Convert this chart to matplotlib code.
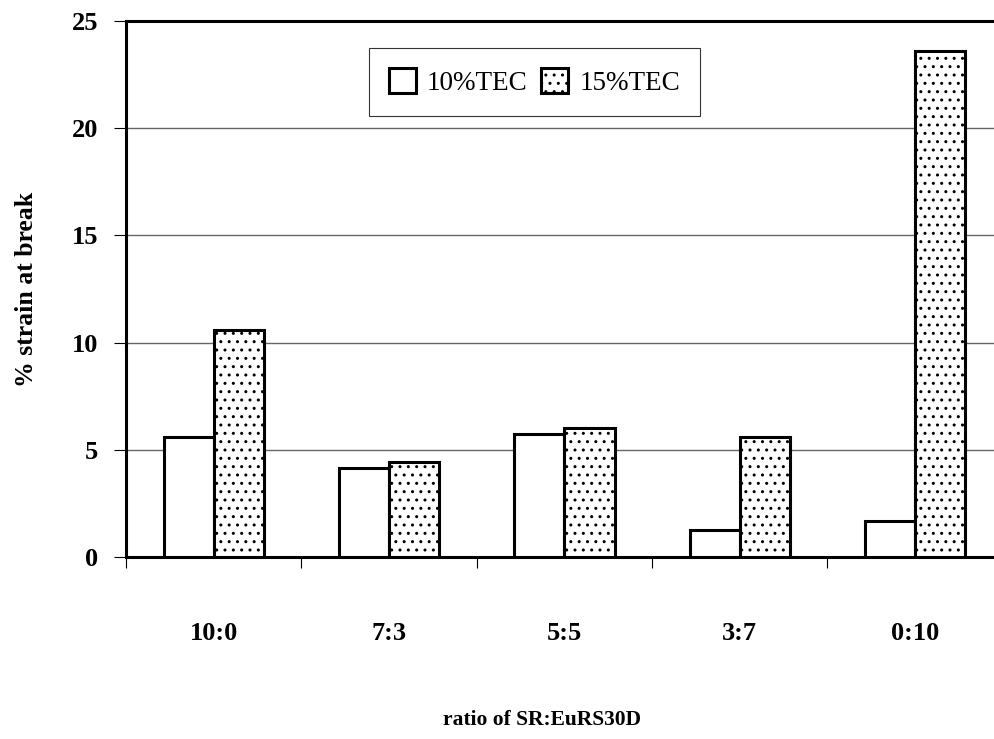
import matplotlib.pyplot as plt
import numpy as np

# data
ratios = ['10:0', '7:3', '5:5', '3:7', '0:10']
tec10 = [5.6, 4.15, 5.75, 1.25, 1.7]
tec15 = [10.6, 4.45, 6.0, 5.6, 23.6]

plt.rcParams['font.family'] = ['Liberation Serif', 'DejaVu Serif']
plt.rcParams['hatch.linewidth'] = 1.0

fig = plt.figure(figsize=(9.94, 7.39), dpi=100)
ax = fig.add_axes([0.1268, 0.2463, 0.882, 0.7253])

x = np.arange(len(ratios))
w = 0.286
ax.bar(x - w / 2, tec10, w, color='white', edgecolor='black', linewidth=2.2,
       label='10%TEC', zorder=3)
ax.bar(x + w / 2, tec15, w, color='white', edgecolor='black', linewidth=2.2,
       hatch='..', label='15%TEC', zorder=3)

ax.set_xlim(-0.5, len(ratios) - 0.5)
ax.set_ylim(0, 25)
ax.set_yticks([0, 5, 10, 15, 20, 25])

# tick marks sit on the category boundaries, names go in between
ax.set_xticks(np.arange(len(ratios)) - 0.5)
ax.set_xticklabels([])
ax.set_xticks(x, minor=True)
ax.set_xticklabels(ratios, minor=True, fontsize=19, fontweight='bold')
ax.tick_params(axis='x', which='major', direction='out', length=8, width=0.8)
ax.tick_params(axis='x', which='minor', length=0, pad=47)
ax.tick_params(axis='y', direction='out', length=9, width=0.8, pad=11)
for t in ax.get_yticklabels():
    t.set_fontsize(19)
    t.set_fontweight('bold')

ax.grid(axis='y', color='#666666', linewidth=1, zorder=0)

for s in ['left', 'top', 'bottom']:
    ax.spines[s].set_linewidth(2.2)
ax.spines['right'].set_visible(False)

ax.set_ylabel('% strain at break', fontsize=18.5, fontweight='bold', labelpad=24)
ax.set_xlabel('ratio of SR:EuRS30D', fontsize=15.5, fontweight='bold')
ax.xaxis.set_label_coords(0.475, -0.286)
ax.xaxis.label.set_va('top')

leg = ax.legend(loc='center', bbox_to_anchor=(0.466, 0.886), ncol=2,
                fontsize=19.5, fancybox=False, edgecolor='black',
                handlelength=1.0, handleheight=1.0, handletextpad=0.4,
                columnspacing=0.5, borderpad=0.75)
leg.get_frame().set_linewidth(0.8)

fig.savefig('out.png', dpi=100)
